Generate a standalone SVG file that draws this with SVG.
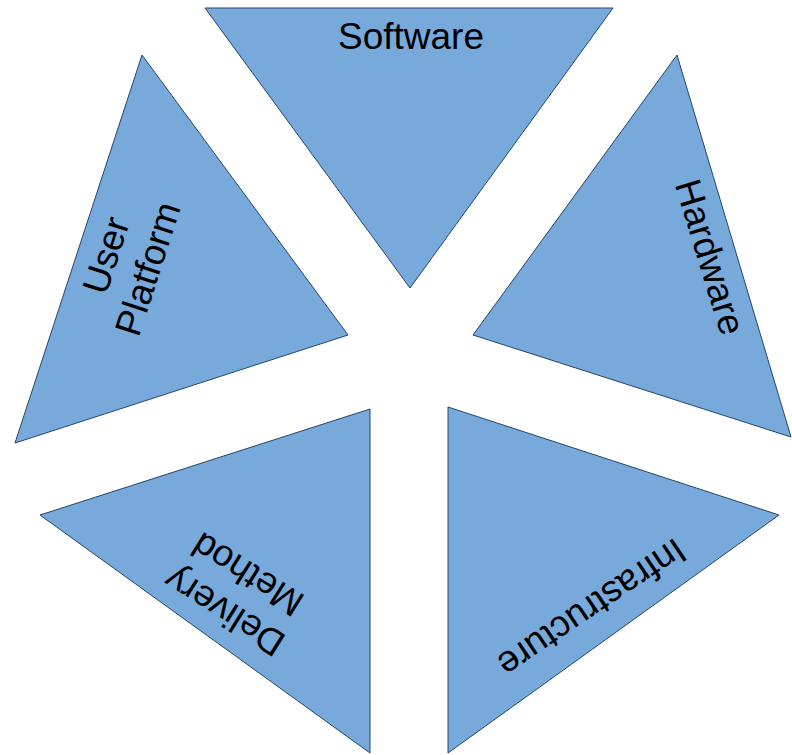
<svg xmlns="http://www.w3.org/2000/svg" width="792" height="755" viewBox="0 0 792 755">
<style>
.tri{fill:#77a9db;stroke:#24466b;stroke-width:1}
.lbl{font-family:"Liberation Sans",Arial,sans-serif;font-size:37px;fill:#000;text-anchor:middle;dominant-baseline:central}
</style>
<rect width="792" height="755" fill="#fff"/>
<g id="software">
<polygon class="tri" points="205,8 613,8 410,288"/>
<text class="lbl" x="411" y="36">Software</text>
</g>
<g id="hardware">
<polygon class="tri" points="677,55 473,335 791,437"/>
<g transform="translate(710,257) rotate(73)"><text class="lbl" x="0" y="0">Hardware</text></g>
</g>
<g id="user-platform">
<polygon class="tri" points="142,55 348,335 15,443"/>
<g transform="translate(127,262) rotate(-72)"><text class="lbl" x="0" y="-22">User</text><text class="lbl" x="0" y="22">Platform</text></g>
</g>
<g id="delivery-method">
<polygon class="tri" points="370,409 40,515 370,753"/>
<g transform="translate(236,593) rotate(212)"><text class="lbl" x="0" y="-22">Delivery</text><text class="lbl" x="0" y="22">Method</text></g>
</g>
<g id="infrastructure">
<polygon class="tri" points="448,407 779,515 448,753"/>
<g transform="translate(592,608) rotate(146)"><text class="lbl" x="0" y="0">Infrastructure</text></g>
</g>
<g id="connectors"></g>
</svg>
